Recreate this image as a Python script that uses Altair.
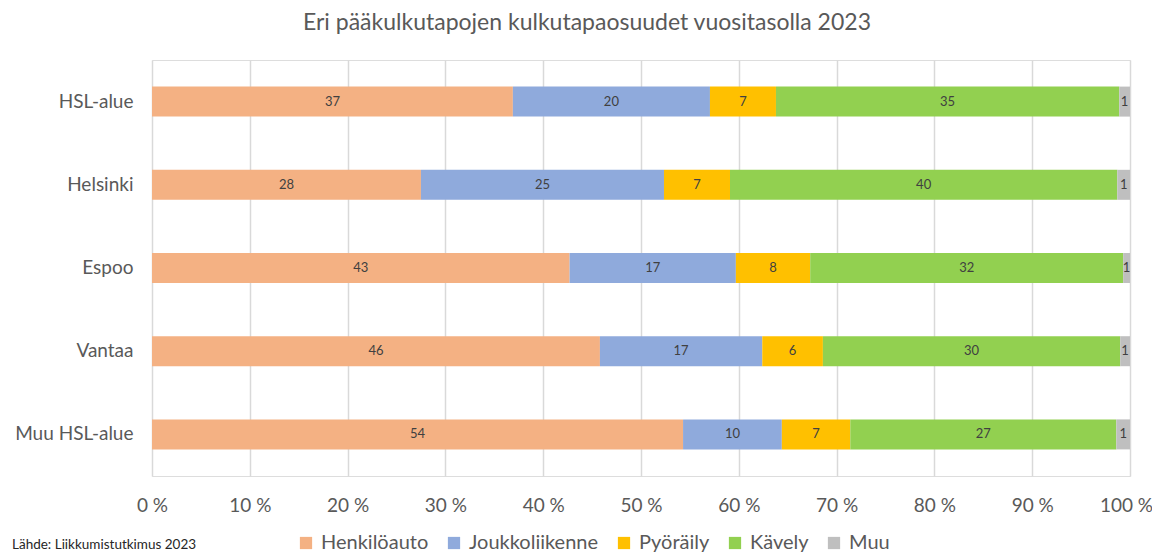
import altair as alt
import pandas as pd

regions = ["HSL-alue", "Helsinki", "Espoo", "Vantaa", "Muu HSL-alue"]
modes = ["Henkilöauto", "Joukkoliikenne", "Pyöräily", "Kävely", "Muu"]
colors = ["#F4B183", "#8FAADC", "#FFC000", "#92D050", "#BFBFBF"]

# shares (%)
henkiloauto = [36.9, 27.5, 42.7, 45.8, 54.3]
joukkoliikenne = [20.15, 24.85, 17.0, 16.6, 10.1]
pyoraily = [6.75, 6.75, 7.6, 6.2, 7.0]
kavely = [35.1, 39.6, 32.0, 30.4, 27.2]
muu = [1.1, 1.3, 0.7, 1.0, 1.4]

# printed data labels
lbl_henkiloauto = [37, 28, 43, 46, 54]
lbl_joukkoliikenne = [20, 25, 17, 17, 10]
lbl_pyoraily = [7, 7, 8, 6, 7]
lbl_kavely = [35, 40, 32, 30, 27]
lbl_muu = [1, 1, 1, 1, 1]

title_text = "Eri pääkulkutapojen kulkutapaosuudet vuositasolla 2023"
source_text = "Lähde: Liikkumistutkimus 2023"

series = [henkiloauto, joukkoliikenne, pyoraily, kavely, muu]
labels = [lbl_henkiloauto, lbl_joukkoliikenne, lbl_pyoraily, lbl_kavely, lbl_muu]

rows = []
for mi, m in enumerate(modes):
    for ri, r in enumerate(regions):
        rows.append({"region": r, "mode": m, "order": mi,
                     "value": series[mi][ri], "label": str(labels[mi][ri])})
df = pd.DataFrame(rows)

FONT = "Lato"
GREY = "#595959"

base = alt.Chart(df)

y_enc = alt.Y("region:N", sort=regions, title=None,
              scale=alt.Scale(paddingInner=0.64, paddingOuter=0.32),
              axis=alt.Axis(labelFontSize=19, labelColor=GREY, labelFont=FONT,
                            ticks=False, domain=False, labelPadding=19, grid=False))

bars = base.mark_bar(size=30).encode(
    x=alt.X("value:Q", stack="zero", title=None,
            scale=alt.Scale(domain=[0, 100], nice=False),
            axis=alt.Axis(values=list(range(0, 101, 10)),
                          labelExpr="datum.value + ' %'",
                          labelFontSize=19, labelColor=GREY, labelFont=FONT,
                          labelFlush=False,
                          labelOffset={"condition": {"test": "datum.value == 100", "value": -4},
                                       "value": 0},
                          ticks=False, domain=False, labelPadding=20,
                          grid=True, gridColor="#D9D9D9", gridWidth=1.5)),
    y=y_enc,
    color=alt.Color("mode:N", sort=modes,
                    scale=alt.Scale(domain=modes, range=colors),
                    legend=alt.Legend(title=None, orient="none", direction="horizontal",
                                      legendX=144, legendY=473,
                                      symbolType="square", symbolSize=150,
                                      symbolStrokeWidth=0,
                                      labelFontSize=20, labelColor=GREY, labelFont=FONT,
                                      labelOffset=5, columnPadding=15)),
    order=alt.Order("order:Q"),
)

texts = base.transform_window(
    cum="sum(value)", groupby=["region"], sort=[alt.SortField("order")]
).transform_calculate(
    mid="datum.cum - datum.value / 2"
).mark_text(fontSize=13, color="#404040", font=FONT).encode(
    x=alt.X("mid:Q"),
    y=alt.Y("region:N", sort=regions),
    text="label:N",
)

title_df = pd.DataFrame({"t": [title_text]})
title = alt.Chart(title_df).mark_text(
    fontSize=23, color=GREY, font=FONT, align="center", baseline="middle"
).encode(x=alt.value(435), y=alt.value(-37), text="t:N")

src_df = pd.DataFrame({"t": [source_text]})
source = alt.Chart(src_df).mark_text(
    fontSize=13.5, color="#262626", font=FONT, align="left", baseline="middle"
).encode(x=alt.value(-140), y=alt.value(485), text="t:N")

chart = alt.layer(bars, texts, title, source).properties(
    width=978, height=416,
    autosize=alt.AutoSizeParams(type="none"),
    padding={"left": 144, "top": 52, "right": 22, "bottom": 78},
).configure_view(stroke=None).configure(font=FONT)

chart.save("out.html", embed_options={"renderer": "svg", "actions": False})
